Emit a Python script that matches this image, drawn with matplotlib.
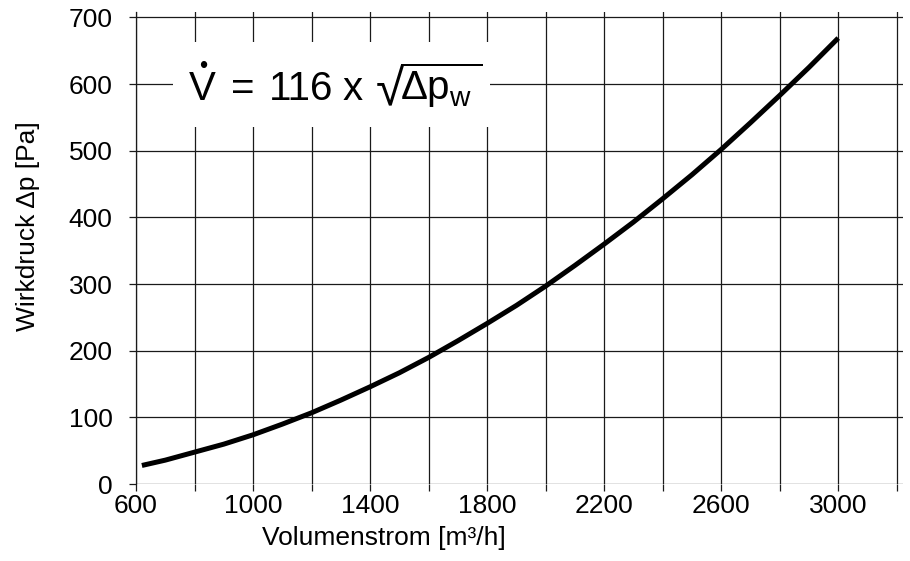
import matplotlib.pyplot as plt
from matplotlib.patches import Rectangle

# values
volumenstrom = [620, 700, 800, 900, 1000, 1100, 1200, 1300, 1400, 1500, 1600, 1700,
                1800, 1900, 2000, 2100, 2200, 2300, 2400, 2500, 2600, 2700, 2800, 2900, 3000]
wirkdruck = [28, 36, 48, 60, 74, 90, 107, 126, 146, 167, 190, 215,
             241, 268, 297, 328, 360, 393, 428, 464, 502, 542, 583, 625, 669]

x_ticks = list(range(600, 3201, 200))
x_labels = [str(v) if (v - 600) % 400 == 0 and v < 3200 else "" for v in x_ticks]
y_ticks = list(range(0, 701, 100))

plt.rcParams["font.family"] = ["Liberation Sans", "DejaVu Sans"]
plt.rcParams["mathtext.fontset"] = "custom"
plt.rcParams["mathtext.rm"] = "Liberation Sans"
plt.rcParams["mathtext.it"] = "Liberation Sans"

W, H = 910, 561
fig = plt.figure(figsize=(W / 100, H / 100), dpi=100)
ax = fig.add_axes([0.1495, 0.137, 0.9925 - 0.1495, 0.9785 - 0.137])

ax.plot(volumenstrom, wirkdruck, color="black", lw=3.6, solid_capstyle="butt", zorder=3)

ax.set_xlim(600, 3222)
ax.set_ylim(0, 708)
ax.set_xticks(x_ticks)
ax.set_xticklabels(x_labels)
ax.set_yticks(y_ticks)
ax.grid(True, color="#1a1a1a", lw=0.9)
ax.set_axisbelow(True)
ax.tick_params(axis="both", direction="out", length=5, width=0.9, color="#1a1a1a",
               labelsize=19)
ax.tick_params(axis="x", pad=2)
ax.tick_params(axis="y", pad=12)
for side in ["top", "right", "bottom"]:
    ax.spines[side].set_visible(False)
ax.spines["left"].set_color("#1a1a1a")
ax.spines["left"].set_linewidth(0.9)

fig.text(384 / W, 1 - 538 / H, "Volumenstrom [m³/h]", fontsize=19,
         ha="center", va="center")
fig.text(28 / W, 1 - 226 / H, "Wirkdruck Δp [Pa]", fontsize=19,
         ha="center", va="center", rotation=90)

# white panel behind the formula, cutting the grid
ax.add_patch(Rectangle((727, 535), 1082, 128, facecolor="white", edgecolor="none",
                       zorder=1))

# formula pieces, placed in figure pixels (left edge, baseline at y=100)
base = 1 - 100 / H
fs = 29
fig.text(189 / W, base, "V", fontsize=fs, va="baseline")
fig.text(203 / W, 1 - 67 / H, "•", fontsize=17, ha="center", va="center")
fig.text(231 / W, base, "=", fontsize=fs, va="baseline")
fig.text(269 / W, base, "116", fontsize=fs, va="baseline")
fig.text(343 / W, base, "x", fontsize=fs, va="baseline")
fig.text(376 / W, 1 - 104 / H, "√", fontsize=37, va="baseline")
fig.text(400 / W, base, r"$\overline{\Delta\mathrm{p}_\mathrm{w}\;}$", fontsize=fs,
         va="baseline")

fig.savefig("out.png", dpi=100)
